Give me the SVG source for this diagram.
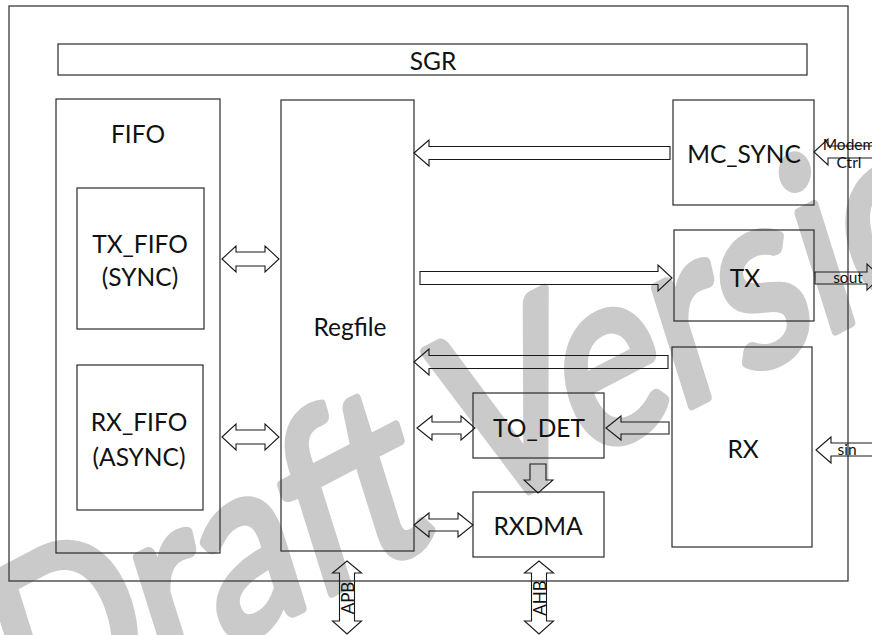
<svg xmlns="http://www.w3.org/2000/svg" width="872" height="635" viewBox="0 0 872 635">
<style>
.box{fill:none;stroke:#2a2a2a;stroke-width:1.2}
.frame{fill:none;stroke:#3a3a3a;stroke-width:1.3}
.arr{fill:none;stroke:#1a1a1a;stroke-width:1.1;stroke-linejoin:miter}
.lbl{font-family:Lato,"Open Sans","Liberation Sans",sans-serif;font-size:24.5px;fill:#111;text-anchor:middle;dominant-baseline:central}
.sm{font-family:Lato,"Open Sans","Liberation Sans",sans-serif;font-size:15.5px;fill:#111;text-anchor:middle;dominant-baseline:central}
.wm{font-family:Lato,"Open Sans","Liberation Sans",sans-serif;font-size:200px;fill:#cacaca;stroke:#cacaca;stroke-width:8;stroke-linejoin:round}
</style>
<rect width="872" height="635" fill="#fff"/>
<text class="wm" x="0" y="0" transform="translate(26 752) scale(0.97 1.25) rotate(-22)">Draft Version</text>
<rect class="frame" x="9" y="6" width="839" height="575"/>
<g id="SGR"><rect class="box" x="58" y="44" width="749" height="31"/><text class="lbl" x="433" y="60">SGR</text></g>
<g id="FIFO"><rect class="box" x="56" y="99" width="164" height="454"/><text class="lbl" x="138" y="133">FIFO</text></g>
<g id="TX_FIFO"><rect class="box" x="77" y="188" width="127" height="141"/><text class="lbl" x="140" y="243">TX_FIFO</text><text class="lbl" x="140" y="276">(SYNC)</text></g>
<g id="RX_FIFO"><rect class="box" x="77" y="365" width="126" height="145"/><text class="lbl" x="139" y="421">RX_FIFO</text><text class="lbl" x="139" y="456">(ASYNC)</text></g>
<g id="Regfile"><rect class="box" x="281" y="100" width="133" height="451"/><text class="lbl" x="350" y="326">Regfile</text></g>
<g id="MC_SYNC"><rect class="box" x="673" y="100" width="141" height="105"/><text class="lbl" x="744" y="153">MC_SYNC</text></g>
<g id="TX"><rect class="box" x="674" y="230" width="140" height="91"/><text class="lbl" x="745" y="277">TX</text></g>
<g id="RX"><rect class="box" x="672" y="347" width="140" height="200"/><text class="lbl" x="743" y="448">RX</text></g>
<g id="TO_DET"><rect class="box" x="473" y="393" width="131" height="65"/><text class="lbl" x="539" y="427">TO_DET</text></g>
<g id="RXDMA"><rect class="box" x="473" y="492" width="131" height="65"/><text class="lbl" x="538" y="525">RXDMA</text></g>
<g id="connectors">
<polygon class="arr" points="414,153 429,140 429,146.5 670,146.5 670,159.5 429,159.5 429,166"/>
<polygon class="arr" points="672,278 658,265 658,271.5 420,271.5 420,284.5 658,284.5 658,291"/>
<polygon class="arr" points="414,362 429,349 429,355.5 668,355.5 668,368.5 429,368.5 429,375"/>
<polygon class="arr" points="606,428 621,416 621,422 669,422 669,434 621,434 621,440"/>
<polygon class="arr" points="417,428 432,416 432,422 461,422 461,416 475,428 461,440 461,434 432,434 432,440"/>
<polygon class="arr" points="414,525 429,513 429,519 458,519 458,513 473,525 458,537 458,531 429,531 429,537"/>
<polygon class="arr" points="530,464 546,464 546,480 553,480 538,493 524,480 530,480"/>
<polygon class="arr" points="222,259 236,246 236,252 265,252 265,246 279,259 265,272 265,266 236,266 236,272"/>
<polygon class="arr" points="222,437 236,424 236,430 265,430 265,424 279,437 265,450 265,444 236,444 236,450"/>
<polygon class="arr" points="814,152 828,139 828,146 880,146 880,158 828,158 828,165"/>
<polygon class="arr" points="815,272 867,272 867,264 881,277 867,290 867,284 815,284"/>
<polygon class="arr" points="816,450 831,437 831,443 880,443 880,456 831,456 831,463"/>
<polygon class="arr" points="347,561 361.5,573 354.5,573 354.5,621 361.5,621 347,634 332.5,621 339.5,621 339.5,573 332.5,573"/>
<polygon class="arr" points="539,561 553.5,573 546.5,573 546.5,621 553.5,621 539,634 524.5,621 531.5,621 531.5,573 524.5,573"/>
<text class="sm" x="849" y="144">Modem</text>
<text class="sm" x="849" y="162">Ctrl</text>
<text class="sm" x="848" y="277">sout</text>
<text class="sm" x="847" y="449">sin</text>
<text class="sm" x="347" y="598" transform="rotate(-90 347 598)" style="font-size:17px">APB</text>
<text class="sm" x="539" y="598" transform="rotate(-90 539 598)" style="font-size:17px">AHB</text>
</g>
</svg>
